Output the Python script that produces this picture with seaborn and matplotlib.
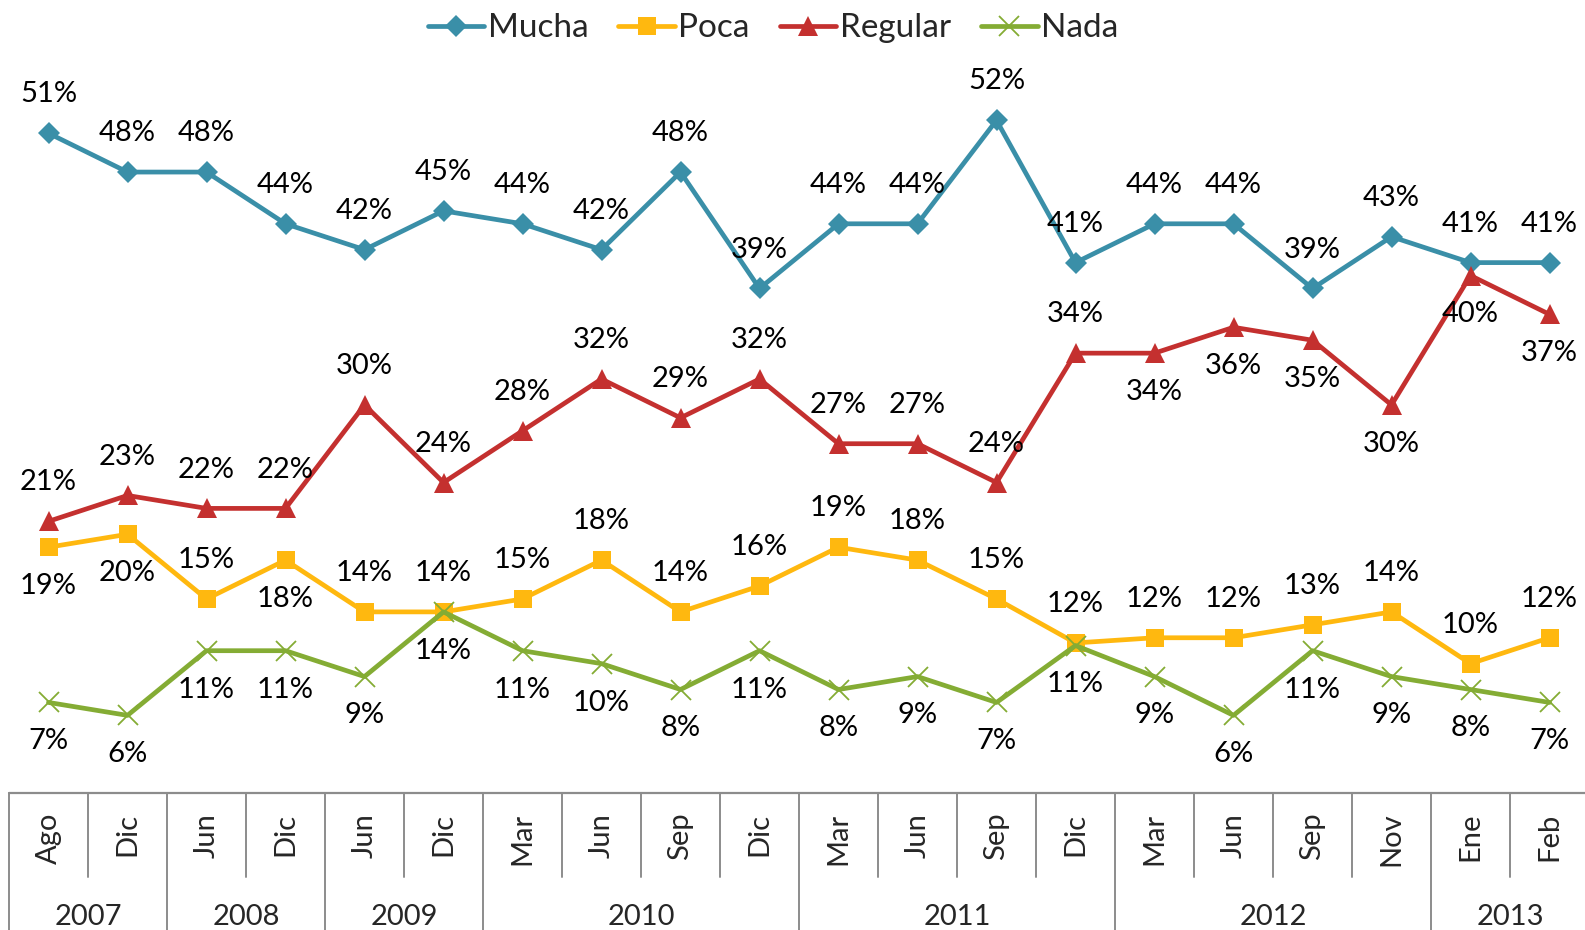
import numpy as np
import pandas as pd
import matplotlib
matplotlib.use("Agg")
import matplotlib.pyplot as plt
import seaborn as sns

# ---- data ----
months = ["Ago", "Dic", "Jun", "Dic", "Jun", "Dic", "Mar", "Jun", "Sep", "Dic",
          "Mar", "Jun", "Sep", "Dic", "Mar", "Jun", "Sep", "Nov", "Ene", "Feb"]
years = ["2007", "2008", "2009", "2010", "2011", "2012", "2013"]
year_counts = [2, 2, 2, 4, 4, 4, 2]

mucha = [51, 48, 48, 44, 42, 45, 44, 42, 48, 39, 44, 44, 52, 41, 44, 44, 39, 43, 41, 41]
poca = [19, 20, 15, 18, 14, 14, 15, 18, 14, 16, 19, 18, 15, 11.6, 12, 12, 13, 14, 10, 12]
regular = [21, 23, 22, 22, 30, 24, 28, 32, 29, 32, 27, 27, 24, 34, 34, 36, 35, 30, 40, 37]
nada = [7, 6, 11, 11, 9, 14, 11, 10, 8, 11, 8, 9, 7, 11.4, 9, 6, 11, 9, 8, 7]

# label sides (+1 above, -1 below)
mucha_side = [1] * 20
regular_side = [1] * 14 + [-1] * 6
poca_side = [-1, -1, 1, -1] + [1] * 16
nada_side = [-1] * 20

sns.set_theme(style="white")
plt.rcParams['font.family'] = ['Lato', 'DejaVu Sans']

W, H = 1585, 930
fig = plt.figure(figsize=(W / 100, H / 100), dpi=100)
ax = fig.add_axes([9 / W, 137 / H, 1580 / W, 793 / H])

x = np.arange(len(months))
series = [
    ("Mucha", mucha, "#3A8FA8", "D", 11, mucha_side),
    ("Poca", poca, "#FFB80F", "s", 13, poca_side),
    ("Regular", regular, "#C4302F", "^", 14, regular_side),
    ("Nada", nada, "#84AC34", "x", 14, nada_side),
]

for name, vals, col, mk, ms, side in series:
    df = pd.DataFrame({"x": x, "y": vals})
    if mk == "x":
        sns.lineplot(data=df, x="x", y="y", ax=ax, color=col, marker=mk,
                     markersize=ms, linewidth=3.4, label=name,
                     markeredgecolor=col, markeredgewidth=1.3)
    else:
        sns.lineplot(data=df, x="x", y="y", ax=ax, color=col, marker=mk,
                     markersize=ms, linewidth=3.4, label=name,
                     markeredgecolor=col, markeredgewidth=0)
    for xi, v, s in zip(x, vals, side):
        ax.annotate(f"{int(round(v))}%", (xi, v), xytext=(0, 28 * s),
                    textcoords="offset points", ha="center", va="center",
                    fontsize=21, color="black")

ax.set_xlim(-0.5, 19.5)
ax.set_ylim(0, 61.3)
ax.set_xticks([])
ax.set_yticks([])
ax.set_xlabel("")
ax.set_ylabel("")
for sp in ax.spines.values():
    sp.set_visible(False)

# ---- category table ----
trans = ax.get_xaxis_transform()
gray = "#8C8C8C"
ax.plot([-0.5, 19.5], [0, 0], color=gray, lw=1.6, transform=trans, clip_on=False)
bounds = np.cumsum([0] + year_counts)
for b in range(len(months) + 1):
    y_end = -0.2 if b in bounds else -0.106
    ax.plot([b - 0.5, b - 0.5], [0, y_end], color=gray, lw=1.4,
            transform=trans, clip_on=False)
for i, m in enumerate(months):
    ax.text(i, -0.025, m, rotation=90, ha="center", va="top", fontsize=21,
            transform=trans)
for yname, start, cnt in zip(years, bounds[:-1], year_counts):
    ax.text(start + cnt / 2 - 0.5, -0.14, yname, ha="center", va="top",
            fontsize=21, transform=trans)

ax.get_legend().remove()
handles, labels = ax.get_legend_handles_labels()
fig.legend(handles, labels, loc="upper center", bbox_to_anchor=(773 / W, 1.018),
           ncol=4, frameon=False, fontsize=24, handlelength=1.7,
           handletextpad=0.1, columnspacing=0.9)

fig.savefig("out.png", dpi=100)
